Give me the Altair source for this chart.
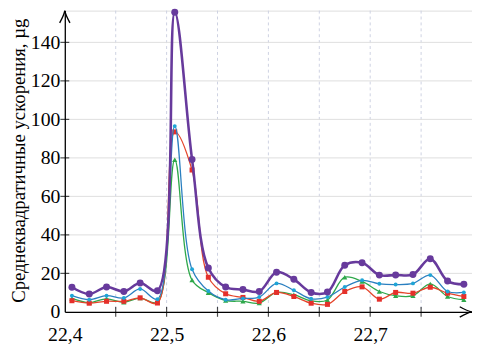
import altair as alt
import pandas as pd

# ---- data ----
x_vals = [22.407, 22.424, 22.441, 22.458, 22.474, 22.491, 22.508, 22.525,
          22.541, 22.558, 22.575, 22.591, 22.608, 22.625, 22.642, 22.658,
          22.675, 22.692, 22.709, 22.725, 22.742, 22.759, 22.776, 22.792]

purple = [12.8, 9.3, 12.9, 10.6, 15.0, 11.0, 155.7, 79.2, 22.8, 12.9, 11.6, 10.6,
          20.6, 16.9, 10.1, 10.3, 24.2, 25.5, 19.1, 19.2, 19.4, 27.6, 16.0, 14.3]
blue = [8.4, 6.3, 8.4, 7.2, 11.9, 6.6, 96.5, 22.1, 10.8, 6.3, 7.0, 7.7,
        14.8, 11.2, 6.8, 7.7, 12.9, 16.4, 14.6, 14.2, 14.8, 19.1, 10.6, 10.1]
red = [5.8, 4.5, 5.5, 5.5, 7.3, 4.6, 93.5, 73.7, 18.0, 9.4, 7.5, 5.5,
       10.1, 8.0, 4.5, 3.9, 10.6, 13.0, 6.6, 10.1, 9.7, 12.8, 9.7, 8.0]
green = [7.0, 4.8, 6.8, 5.0, 7.2, 5.0, 79.0, 16.5, 10.0, 5.9, 5.5, 4.6,
         10.1, 8.9, 5.7, 6.2, 18.0, 15.8, 10.6, 8.4, 8.4, 14.5, 8.0, 6.3]

x_label_values = [22.4, 22.5, 22.6, 22.7]
x_tick_values = [22.45, 22.5, 22.55, 22.6, 22.65, 22.7, 22.75]
x_grid_values = [22.45, 22.5, 22.55, 22.6, 22.65, 22.7, 22.75]
y_label_values = [0, 20, 40, 60, 80, 100, 120, 140]
y_tick_values = [20, 40, 60, 80, 100, 120, 140]
y_grid_values = [20, 40, 60, 80, 100, 120, 140]
X_DOMAIN = [22.4, 22.8]
Y_DOMAIN = [0, 156.5]

y_title = "Среднеквадратичные ускорения, µg"
FONT = "Liberation Serif, Times New Roman, DejaVu Serif, serif"

xs = alt.Scale(domain=X_DOMAIN, nice=False, zero=False)
ys = alt.Scale(domain=Y_DOMAIN, nice=False, zero=True)

x_axis = alt.Axis(values=x_label_values, labelExpr="replace(format(datum.value, '.1f'), '.', ',')",
                  ticks=False, tickSize=0, grid=False, domainColor="black", domainWidth=1.3,
                  labelFont=FONT, labelFontSize=20, labelColor="black", labelPadding=13,
                  labelFlush=False, labelOverlap=False, title=None, zindex=1)
y_axis = alt.Axis(values=y_label_values, ticks=False, tickSize=0, grid=False,
                  domainColor="black", domainWidth=1.3,
                  labelFont=FONT, labelFontSize=20, labelColor="black", labelPadding=5,
                  labelFlush=False, labelOverlap=False,
                  title=y_title, titleFont=FONT, titleFontSize=19, titleFontWeight="normal",
                  titleColor="black", titleAngle=270, titleX=-41, titleY=152,
                  titleAlign="center", titleBaseline="alphabetic", zindex=1)


def X():
    return alt.X("x:Q", scale=xs, axis=x_axis)


def Y():
    return alt.Y("y:Q", scale=ys, axis=y_axis)


layers = []

# grid
layers.append(alt.Chart(pd.DataFrame({"x": x_grid_values})).mark_rule(
    color="#cdd1e2", strokeWidth=1, strokeDash=[3, 3]).encode(x=X()))
layers.append(alt.Chart(pd.DataFrame({"y": y_grid_values})).mark_rule(
    color="#dedede", strokeWidth=1).encode(y=Y()))


def series(vals, line_color, pt_color, width, shape, size):
    df = pd.DataFrame({"x": x_vals, "y": vals})
    base = alt.Chart(df).encode(x=X(), y=Y())
    ln = base.mark_line(interpolate="catmull-rom", color=line_color, strokeWidth=width)
    pt = base.mark_point(shape=shape, filled=True, size=size, color=pt_color, opacity=1)
    return [ln, pt]


layers += series(green, "#2ea84a", "#2ea84a", 1.3, "triangle-up", 28)
layers += series(red, "#e5452b", "#e5302b", 1.3, "square", 26)
layers += series(blue, "#2a7fc0", "#1fa5d6", 1.3, "circle", 16)
layers += series(purple, "#673a9c", "#673a9c", 2.6, "circle", 50)

# crossing ticks
layers.append(alt.Chart(pd.DataFrame({"x": x_tick_values, "y": [0] * len(x_tick_values)})).mark_tick(
    orient="vertical", size=10, thickness=1.2, color="black").encode(x=X(), y=Y()))
layers.append(alt.Chart(pd.DataFrame({"x": [X_DOMAIN[0]] * len(y_tick_values), "y": y_tick_values})).mark_tick(
    orient="horizontal", size=9, thickness=1.2, color="black").encode(x=X(), y=Y()))

# arrow heads
layers.append(alt.Chart(pd.DataFrame({"x": [X_DOMAIN[1]], "y": [0]})).mark_point(
    shape="M -1 -0.42 Q -0.35 -0.06 0 0 Q -0.35 0.06 -1 0.42", filled=False, stroke="black",
    strokeWidth=1.4, size=620, opacity=1).encode(x=X(), y=Y()))
layers.append(alt.Chart(pd.DataFrame({"x": [X_DOMAIN[0]], "y": [Y_DOMAIN[1]]})).mark_point(
    shape="M -0.42 1 Q -0.06 0.35 0 0 Q 0.06 0.35 0.42 1", filled=False, stroke="black",
    strokeWidth=1.4, size=620, opacity=1).encode(x=X(), y=Y()))

chart = alt.layer(*layers).properties(
    width=413.6, height=306,
    autosize=alt.AutoSizeParams(type="none"),
    padding={"left": 57.7, "top": 0, "right": 0, "bottom": 32},
).configure_view(stroke="#8c9ad6", strokeWidth=1.5).configure(background="white", font=FONT)

chart.save("out.html", embed_options={"renderer": "svg", "actions": False})
